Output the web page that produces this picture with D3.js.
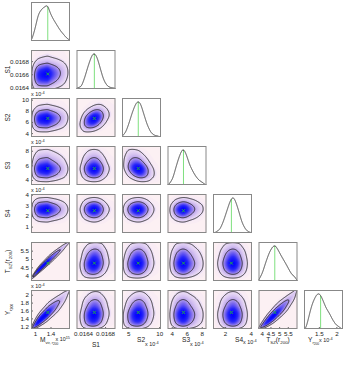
<!DOCTYPE html>
<html><head><meta charset="utf-8">
<script src="https://cdn.jsdelivr.net/npm/d3@7"></script>
<style>
body{margin:0;background:#fff}
svg{display:block}
text{font-family:"Liberation Sans",Arial,Helvetica,sans-serif;fill:#222}
</style>
</head><body>
<svg id="chart" width="346" height="366"></svg>
<script>
// ---------------- DATA ----------------
const varNames = ["Mvir", "S1", "S2", "S3", "S4", "TSZ", "Y"];

// 1-D marginal curves: sample locations (data units) and relative heights
const mvirGrid = [0.918,1.003,1.087,1.174,1.259,1.328,1.387,1.472,1.559,1.644,1.728,1.815,1.9];
const mvirDens = [0.03,0.33,0.74,0.88,0.95,1.0,0.78,0.6,0.45,0.3,0.19,0.08,0.02];
const s1Grid = [0.016286,0.016368,0.016429,0.016491,0.016555,0.016603,0.016659,0.016710,0.016771,0.016835,0.016897,0.01699];
const s1Dens = [0.03,0.06,0.31,0.63,0.91,1.0,0.86,0.58,0.26,0.09,0.04,0.02];
const s2Grid = [4.05,4.60,5.13,5.66,6.21,6.63,7.02,7.55,8.09,8.64,9.17,9.98];
const s2Dens = [0.03,0.13,0.38,0.68,0.92,1.0,0.92,0.62,0.33,0.13,0.05,0.02];
const s3Grid = [3.60,4.14,4.59,5.03,5.39,5.56,5.92,6.36,6.80,7.26,7.70,8.36];
const s3Dens = [0.01,0.18,0.52,0.81,0.98,1.0,0.86,0.57,0.38,0.22,0.12,0.04];
const s4Grid = [1.23,1.61,1.87,2.13,2.39,2.60,2.78,3.04,3.30,3.56,3.81,4.08];
const s4Dens = [0.01,0.10,0.31,0.59,0.87,1.0,0.92,0.64,0.31,0.12,0.03,0.01];
const tszGrid = [3.84,4.02,4.25,4.44,4.62,4.77,4.92,5.12,5.41,5.70,5.99];
const tszDens = [0.05,0.2,0.55,0.8,0.95,1.0,0.88,0.7,0.46,0.2,0.08];
const yGrid = [1.13,1.195,1.262,1.334,1.429,1.502,1.569,1.633,1.708,1.80,1.892,1.987,2.127];
const yDens = [0.03,0.26,0.54,0.76,0.95,1.0,0.91,0.76,0.58,0.44,0.26,0.12,0.03];

// true (input) values, green markers
const trueValues = [1.33, 0.016605, 6.63, 5.56, 2.5, 4.75, 1.55];

// pairwise correlation (lower triangle, row variable vs column variable)
const corrRow1 = [0.1];
const corrRow2 = [0.05, 0.35];
const corrRow3 = [0.0, 0.0, -0.3];
const corrRow4 = [0.0, 0.0, 0.0, 0.05];
const corrRow5 = [0.975, 0.1, 0.05, 0.0, 0.0];
const corrRow6 = [0.9, 0.1, 0.1, 0.0, 0.0, 0.91];

// axis ranges (column = x axis, row = y axis)
const xDomains = [[0.9,1.9],[0.01628,0.01699],[4.0,10.3],[3.43,8.63],[1.07,4.1],[3.81,6.06],[1.075,2.19]];
const yDomains = [null,[0.016375,0.01697],[3.3,10.3],[3.3,8.65],[0.4,4.07],[3.68,6.02],[1.13,2.12]];

// tick values / labels
const xTickVals = [[1,1.4],[0.0164,0.0168],[5,10],[4,6,8],[2,4],[4,4.5,5,5.5],[1.5,2]];
const yTickVals = [null,[0.0164,0.0166,0.0168],[4,6,8,10],[4,6,8],[1,2,3,4],[4,4.5,5,5.5],[1.2,1.4,1.6,1.8,2]];
const yHasExponent = [false,false,true,true,true,false,true];

// ---------------- HELPERS ----------------
const grids = [mvirGrid,s1Grid,s2Grid,s3Grid,s4Grid,tszGrid,yGrid];
const denss = [mvirDens,s1Dens,s2Dens,s3Dens,s4Dens,tszDens,yDens];
const corrRows = [[],corrRow1,corrRow2,corrRow3,corrRow4,corrRow5,corrRow6];

function linInterp(xs, ys, x){
  if (x < xs[0] || x > xs[xs.length-1]) return 0;
  const i = Math.min(xs.length-2, Math.max(0, d3.bisectRight(xs, x)-1));
  const t = (x - xs[i])/(xs[i+1]-xs[i]);
  return ys[i]*(1-t) + ys[i+1]*t;
}
function makeMarg(grid, dens){
  const lo = grid[0], hi = grid[grid.length-1], span = hi-lo;
  const a = lo - 0.25*span, b = hi + 0.25*span;
  const N = 800, dx = (b-a)/N;
  const xs = d3.range(N+1).map(k => a + k*dx);
  const raw = xs.map(x => linInterp(grid, dens, x));
  const sig = 0.03*span/dx, R = Math.ceil(3*sig);
  const w = d3.range(-R, R+1).map(k => Math.exp(-0.5*k*k/(sig*sig)));
  const sm = xs.map((_,i) => {
    let s=0, ws=0;
    for (let k=-R;k<=R;k++){ const j=i+k; if(j<0||j>N) continue; s+=raw[j]*w[k+R]; ws+=w[k+R]; }
    return s/ws;
  });
  let cum = [0];
  for (let i=1;i<=N;i++) cum.push(cum[i-1] + 0.5*(sm[i]+sm[i-1])*dx);
  const tot = cum[N];
  const pdf = x => (x<a||x>b)?0:linInterp(xs, sm, x)/tot;
  const cdf = x => x<=a?0:(x>=b?1:linInterp(xs, cum, x)/tot);
  return {pdf, cdf, a, b, xs, peak: d3.max(sm)/tot};
}
function invNorm(p){
  const a=[-3.969683028665376e+01,2.209460984245205e+02,-2.759285104469687e+02,1.383577518672690e+02,-3.066479806614716e+01,2.506628277459239e+00];
  const b=[-5.447609879822406e+01,1.615858368580409e+02,-1.556989798598866e+02,6.680131188771972e+01,-1.328068155288572e+01];
  const c=[-7.784894002430293e-03,-3.223964580411365e-01,-2.400758277161838e+00,-2.549671348584376e+00,4.374664141464968e+00,2.938163982698783e+00];
  const d=[7.784695709041462e-03,3.224671290700398e-01,2.445134137142996e+00,3.754408661907416e+00];
  const pl=0.02425, ph=1-pl; let q,r;
  if(p<pl){q=Math.sqrt(-2*Math.log(p));return (((((c[0]*q+c[1])*q+c[2])*q+c[3])*q+c[4])*q+c[5])/((((d[0]*q+d[1])*q+d[2])*q+d[3])*q+1);}
  if(p>ph){q=Math.sqrt(-2*Math.log(1-p));return -(((((c[0]*q+c[1])*q+c[2])*q+c[3])*q+c[4])*q+c[5])/((((d[0]*q+d[1])*q+d[2])*q+d[3])*q+1);}
  q=p-0.5;r=q*q;return (((((a[0]*r+a[1])*r+a[2])*r+a[3])*r+a[4])*r+a[5])*q/(((((b[0]*r+b[1])*r+b[2])*r+b[3])*r+b[4])*r+1);
}
const clampP = p => Math.min(1-1e-7, Math.max(1e-7, p));
function joint(mx, my, rho, x, y){
  const fx = mx.pdf(x), fy = my.pdf(y);
  if (fx<=0 || fy<=0) return 0;
  const zx = invNorm(clampP(mx.cdf(x))), zy = invNorm(clampP(my.cdf(y)));
  const r2 = 1 - rho*rho;
  const c = Math.exp(-(rho*rho*(zx*zx+zy*zy) - 2*rho*zx*zy)/(2*r2))/Math.sqrt(r2);
  return c*fx*fy;
}
const margs = grids.map((g,i) => makeMarg(g, denss[i]));

// ---------------- LAYOUT ----------------
const svg = d3.select("#chart");
const pw = 39, ph = 39;
const colLeft = d3.scaleLinear().domain([0,6]).range([31, 304]);
const rowTop = d3.scaleLinear().domain([0,6]).range([2, 290]);
const nVar = varNames.length;

const densColor = d3.scaleLinear()
  .domain([0,0.03,0.12,0.28,0.45,0.7,1])
  .range(['#fcf0f3','#efe2f6','#dccaf2','#b9a2ea','#7e6cee','#2c2af8','#0000ff']);

const defs = svg.append("defs");

for (let r=0; r<nVar; r++){
  for (let c=0; c<=r; c++){
    const L = colLeft(c), T = rowTop(r);
    const id = `clip${r}_${c}`;
    defs.append("clipPath").attr("id", id).append("rect").attr("x",L).attr("y",T).attr("width",pw).attr("height",ph);
    const g = svg.append("g");
    const xs = d3.scaleLinear().domain(xDomains[c]).range([L, L+pw]);
    if (r === c){
      g.append("rect").attr("x",L).attr("y",T).attr("width",pw).attr("height",ph).attr("fill","#fff");
      const m = margs[c];
      const ys = d3.scaleLinear().domain([0, m.peak/0.9]).range([T+ph, T]);
      const span = xDomains[c][1]-xDomains[c][0];
      const pts = m.xs.filter(x => x>=xDomains[c][0]-0.02*span && x<=xDomains[c][1]+0.02*span);
      const inner = g.append("g").attr("clip-path",`url(#${id})`);
      inner.append("line")
        .attr("x1", xs(trueValues[c])).attr("x2", xs(trueValues[c]))
        .attr("y1", ys(0)).attr("y2", ys(m.pdf(trueValues[c])))
        .attr("stroke","#7fe07f").attr("stroke-width",1);
      inner.append("path").datum(pts)
        .attr("d", d3.line().x(x=>xs(x)).y(x=>ys(m.pdf(x))))
        .attr("fill","none").attr("stroke","#333").attr("stroke-width",0.9);
    } else {
      const yDom = yDomains[r];
      const ys = d3.scaleLinear().domain(yDom).range([T+ph, T]);
      g.append("rect").attr("x",L).attr("y",T).attr("width",pw).attr("height",ph).attr("fill","#fcf0f3");
      const nx = 70, ny = 70;
      const rho = corrRows[r][c];
      const vals = new Array(nx*ny);
      const gx = i => xDomains[c][0] + i/nx*(xDomains[c][1]-xDomains[c][0]);
      const gy = j => yDom[1] - j/ny*(yDom[1]-yDom[0]);
      for (let j=0;j<ny;j++) for (let i=0;i<nx;i++)
        vals[j*nx+i] = joint(margs[c], margs[r], rho, gx(i+0.5), gy(j+0.5));
      const mx = d3.max(vals);
      const proj = d3.geoTransform({point(px,py){ this.stream.point(xs(gx(px)), ys(gy(py))); }});
      const path = d3.geoPath(proj);
      const inner = g.append("g").attr("clip-path",`url(#${id})`);
      const levels = d3.range(0.008, 1.0, 0.03);
      const filled = d3.contours().size([nx,ny]).smooth(true).thresholds(levels.map(t=>t*mx))(vals);
      inner.selectAll("path.f").data(filled).join("path").attr("class","f")
        .attr("d", path).attr("fill", d => densColor(d.value/mx)).attr("stroke","none");
      const lines = d3.contours().size([nx,ny]).smooth(true).thresholds([0.06*mx, 0.3*mx])(vals);
      inner.selectAll("path.l").data(lines).join("path").attr("class","l")
        .attr("d", path).attr("fill","none").attr("stroke","#111").attr("stroke-width",0.8);
      const tx = xs(trueValues[c]), ty = ys(trueValues[r]);
      inner.append("path").attr("d",`M${tx-1.5},${ty-1.5}L${tx+1.5},${ty+1.5}M${tx-1.5},${ty+1.5}L${tx+1.5},${ty-1.5}`)
        .attr("stroke","#22bb33").attr("stroke-width",0.9);
      if (c === 0){
        const ax = g.append("g").attr("transform",`translate(${L},0)`)
          .call(d3.axisLeft(ys).tickValues(yTickVals[r]).tickSizeInner(-2).tickSizeOuter(0).tickPadding(2).tickFormat(d=>String(d)));
        ax.select(".domain").remove();
        ax.selectAll("line").attr("stroke","#666");
        ax.selectAll("text").attr("font-size",6.2).attr("fill","#222").style("font-family",null);
      }
    }
    if (r === nVar-1){
      const ax = g.append("g").attr("transform",`translate(0,${T+ph})`)
        .call(d3.axisBottom(xs).tickValues(xTickVals[c]).tickSizeInner(-2).tickSizeOuter(0).tickPadding(3).tickFormat(d=>String(d)));
      ax.select(".domain").remove();
      ax.selectAll("line").attr("stroke","#666");
      ax.selectAll("text").attr("font-size",6.2).attr("fill","#222").style("font-family",null);
    }
    g.append("rect").attr("x",L+0.5).attr("y",T+0.5).attr("width",pw-1).attr("height",ph-1)
      .attr("fill","none").attr("stroke","#888").attr("stroke-width",1);
  }
}

// ---------------- LABELS ----------------
function expLabel(x, y, exp){
  const t = svg.append("text").attr("x",x).attr("y",y).attr("font-size",5.4);
  t.append("tspan").text("x 10");
  t.append("tspan").attr("dy",-2.2).attr("font-size",3.8).text(exp);
}
for (let r=1;r<nVar;r++) if (yHasExponent[r]) expLabel(colLeft(0), rowTop(r)-2, "-4");

function rotLabel(r, builder){
  const cy = rowTop(r) + ph/2;
  const t = svg.append("text").attr("transform",`translate(10,${cy}) rotate(-90)`)
    .attr("text-anchor","middle").attr("font-size",6.6);
  builder(t);
}
rotLabel(1, t => t.text("S1"));
rotLabel(2, t => t.text("S2"));
rotLabel(3, t => t.text("S3"));
rotLabel(4, t => t.text("S4"));
rotLabel(5, t => { t.append("tspan").text("T"); t.append("tspan").attr("dy",1.5).attr("font-size",4.4).text("SZ");
  t.append("tspan").attr("dy",-1.5).text("(r"); t.append("tspan").attr("dy",1.5).attr("font-size",4.4).text("200");
  t.append("tspan").attr("dy",-1.5).text(")"); });
rotLabel(6, t => { t.append("tspan").text("Y"); t.append("tspan").attr("dy",1.5).attr("font-size",4.4).text("r");
  t.append("tspan").attr("dy",1.5).attr("font-size",3.4).text("200"); });

const by = 342;
{ const t = svg.append("text").attr("x",40).attr("y",by).attr("font-size",6.6);
  t.append("tspan").text("M"); t.append("tspan").attr("dy",1.5).attr("font-size",4.0).text("vir, r");
  t.append("tspan").attr("dy",1.5).attr("font-size",3.2).text("200");
  const e = svg.append("text").attr("x",55.5).attr("y",by-1).attr("font-size",5.4);
  e.append("tspan").text("x 10"); e.append("tspan").attr("dy",-2.2).attr("font-size",3.8).text("15"); }
svg.append("text").attr("x",colLeft(1)+pw/2).attr("y",by+5).attr("text-anchor","middle").attr("font-size",6.6).text("S1");
svg.append("text").attr("x",137).attr("y",by).attr("font-size",6.6).text("S2"); expLabel(145, by+4, "-4");
svg.append("text").attr("x",182).attr("y",by).attr("font-size",6.6).text("S3"); expLabel(190, by+4, "-4");
svg.append("text").attr("x",235).attr("y",by).attr("font-size",6.6).text("S4"); expLabel(243, by+2, "-4");
{ const t = svg.append("text").attr("x",colLeft(5)+pw/2).attr("y",by).attr("text-anchor","middle").attr("font-size",6.6);
  t.append("tspan").text("T"); t.append("tspan").attr("dy",1.5).attr("font-size",4.4).text("SZ");
  t.append("tspan").attr("dy",-1.5).text("(r"); t.append("tspan").attr("dy",1.5).attr("font-size",4.4).text("200");
  t.append("tspan").attr("dy",-1.5).text(")"); }
{ const t = svg.append("text").attr("x",308).attr("y",by).attr("font-size",6.6);
  t.append("tspan").text("Y"); t.append("tspan").attr("dy",1.5).attr("font-size",4.2).text("r");
  t.append("tspan").attr("dy",1.5).attr("font-size",3.2).text("200");
  expLabel(319, by, "-4"); }
</script>
</body></html>
